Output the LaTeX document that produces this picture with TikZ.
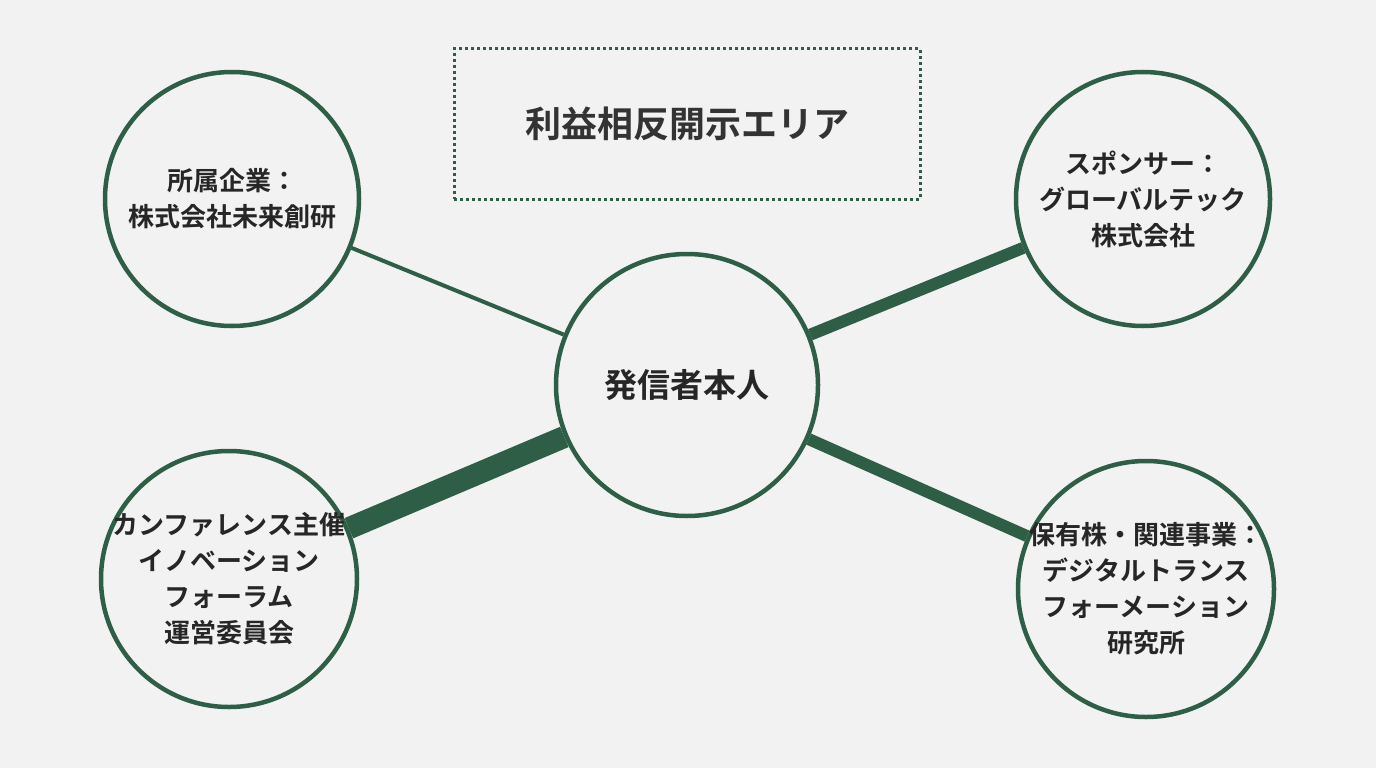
\documentclass[tikz,border=0pt]{standalone}
\usepackage{fontspec}
\setmainfont{Noto Sans CJK JP}[BoldFont={Noto Sans CJK JP Bold}]
\definecolor{dg}{HTML}{2E5E45}
\definecolor{bg}{HTML}{F2F2F2}
\begin{document}
\begin{tikzpicture}[x=1pt,y=-1pt,
  circ/.style={circle,draw=dg,line width=4.5pt,fill=bg,inner sep=0pt},
  txt/.style={align=center,inner sep=0pt,font=\bfseries\fontsize{26}{36}\selectfont,text=black!85},
  link/.style={draw=dg}]
\fill[bg] (0,0) rectangle (1376,768);
\useasboundingbox (0,0) rectangle (1376,768);
\node[draw=dg,dash pattern=on 3pt off 3pt,line width=3pt,minimum width=466pt,minimum height=150pt,font=\bfseries\fontsize{36}{42}\selectfont,text=black!80] (box) at (687,124) {利益相反開示エリア};
\node[circ,minimum size=262pt] (c) at (687,385) {};
\node[circ,minimum size=254pt] (tl) at (232,199) {};
\node[circ,minimum size=254pt] (tr) at (1143,199) {};
\node[circ,minimum size=256pt] (bl) at (229,579) {};
\node[circ,minimum size=256pt] (br) at (1146,589) {};
\node[txt,font=\bfseries\fontsize{33}{38}\selectfont] (ct) at (c) {発信者本人};
\node[txt] (tlt) at (tl) {所属企業：\\株式会社未来創研};
\node[txt] (trt) at (tr) {スポンサー：\\グローバルテック\\株式会社};
\node[txt] (blt) at (bl) {カンファレンス主催\\イノベーション\\フォーラム\\運営委員会};
\node[txt] (brt) at (br) {保有株・関連事業：\\デジタルトランス\\フォーメーション\\研究所};
\draw[link,line width=4pt] (c) -- (tl);
\draw[link,line width=12pt] (c) -- (tr);
\draw[link,line width=22pt] (c) -- (bl);
\draw[link,line width=12pt] (c) -- (br);
\end{tikzpicture}
\end{document}
